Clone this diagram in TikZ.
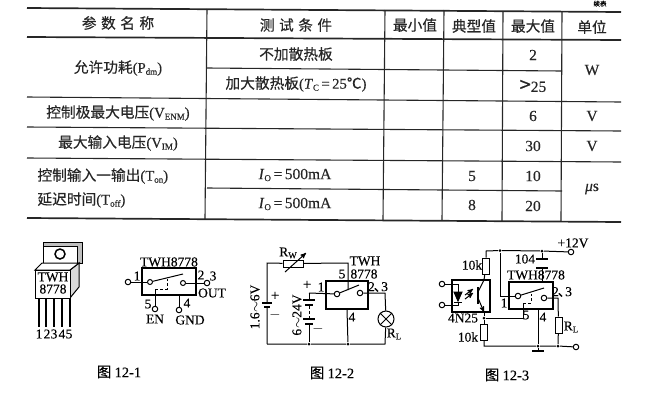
\documentclass[tikz,border=0pt]{standalone}
\usepackage{fontspec}
\setmainfont[FakeBold=0.25]{Liberation Serif}
\newfontfamily\cjk[FakeBold=0.4]{Noto Sans CJK SC}
\usetikzlibrary{arrows}
\newcommand{\lat}[1]{{\rmfamily #1}}
\newcommand{\lsub}[1]{\raisebox{-2pt}{\rmfamily\fontsize{9}{9}\selectfont #1}}

\begin{document}
\begin{tikzpicture}[x=1pt,y=-1pt,thick,line width=1pt,
  rule line/.style={line width=1.1pt,black!85},
  heavy line/.style={line width=1.7pt,black!85},
  cell text/.style={inner sep=0pt,font=\cjk\fontsize{14.7}{15}\selectfont,black!85},
  val text/.style={inner sep=0pt,font=\rmfamily\fontsize{15.5}{15}\selectfont,black!85},
  pin text/.style={inner sep=0pt,font=\rmfamily\fontsize{13.5}{13}\selectfont},
  sign text/.style={inner sep=0pt,font=\rmfamily\fontsize{15}{15}\selectfont},
  fig text/.style={inner sep=0pt,font=\cjk\fontsize{14.5}{15}\selectfont},
  term node/.style={circle,draw,fill=white,inner sep=0pt,minimum size=5.5pt},
  dot node/.style={circle,fill=black,inner sep=0pt,minimum size=3pt},
  res node/.style={rectangle,draw,fill=white,inner sep=0pt,minimum width=7pt,minimum height=16pt},
  ctrl line/.style={densely dashed}]

  \path[use as bounding box,clip] (0,0) rectangle (646,400);

%table rules
  \foreach \xa/\ya/\xb/\yb in {27/8/621/12,27/37/621/40,27/218/621/222}
    \draw[heavy line] (\xa,\ya) -- (\xb,\yb);
  \foreach \xa/\ya/\xb/\yb in {207/68/562/71,27/97/621/102,27/127/621/131,
    27/158/621/162,207/188/562/191}
    \draw[rule line] (\xa,\ya) -- (\xb,\yb);
  \foreach \xa/\ya/\xb/\yb in {207/9/205/219,385/10/383/220,444/10/442/220,
    503/11/502/221,562/11/561/221}
    \draw[rule line] (\xa,\ya) -- (\xb,\yb);

%table text
  \node[cell text] (tA) at (118,23) {参\hspace{4.5pt}数\hspace{4.5pt}名\hspace{4.5pt}称};
  \node[cell text] (tB) at (296,25) {测\hspace{4.5pt}试\hspace{4.5pt}条\hspace{4.5pt}件};
  \node[cell text] (tC) at (415,25) {最小值};
  \node[cell text] (tD) at (474,26) {典型值};
  \node[cell text] (tE) at (533,26) {最大值};
  \node[cell text] (tF) at (592,27) {单位};
  \node[cell text] (tG) at (118,68) {允许功耗\lat{(P\lsub{dm})}};
  \node[cell text] (tH) at (118,113) {控制极最大电压\lat{(V\lsub{ENM})}};
  \node[cell text] (tI) at (118,143) {最大输入电压\lat{(V\lsub{IM})}};
  \node[cell text,anchor=west] (tJ) at (37,176) {控制输入一输出\lat{(T\lsub{on})}};
  \node[cell text,anchor=west] (tK) at (37,200) {延迟时间\lat{(T\lsub{off})}};
  \node[cell text] (tL) at (296,54) {不加散热板};
  \node[cell text] (tM) at (296,84) {加大散热板\lat{(\textit{T}\lsub{C}\,=\,25}℃\lat{)}};
  \node[val text] (tN) at (295,175) {\textit{I}\lsub{O}\,=\,500mA};
  \node[val text] (tO) at (295,204) {\textit{I}\lsub{O}\,=\,500mA};
  \node[val text] (v1) at (533,55) {2};
  \node[val text] (v2) at (533,86) {\cjk\fontsize{20}{20}\selectfont >\rmfamily\fontsize{15.5}{15}\selectfont 25};
  \node[val text] (v3) at (533,116) {6};
  \node[val text] (v4) at (533,146) {30};
  \node[val text] (v5) at (533,176) {10};
  \node[val text] (v6) at (533,206) {20};
  \node[val text] (v7) at (472,176) {5};
  \node[val text] (v8) at (472,205) {8};
  \node[val text] (u1) at (592,70) {W};
  \node[val text] (u2) at (592,116) {V};
  \node[val text] (u3) at (592,146) {V};
  \node[val text] (u4) at (592,189) {\textit{μ}s};
  \node[inner sep=0pt,font=\cjk\fontsize{6.5}{7}\selectfont] (xu) at (600,3.7) {续表};

%figure 12-1 package
  \filldraw[fill=black!25] (43,242) rectangle (82,263);
  \filldraw[fill=white] (43,246) -- (77,246) -- (77,263) -- (43,263) -- cycle;
  \draw[line width=1.5pt] (60,254) circle (5);
  \filldraw[fill=black!15] (70,270) -- (79,263) -- (79,287) -- (70,298) -- cycle;
  \draw[fill=white] (35,270) -- (42,263) -- (79,263) -- (70,270) -- cycle;
  \node[draw,fill=white,minimum width=35pt,minimum height=28pt,inner sep=0pt] (pk) at (52.5,284) {};
  \node[pin text] (pkA) at (53,277) {TWH};
  \node[pin text] (pkB) at (53,289) {8778};
  \foreach \i/\x/\xt in {1/39/39,2/46/47,3/54/54,4/62/62,5/70/69}{
    \coordinate (lead\i) at (\x,327);
    \draw[line width=1.3pt] (\x,298) -- (lead\i);
    \node[pin text] (leadt\i) at (\xt,334) {\i};
  }
  \node[fig text] (figA) at (119,372) {图 \lat{12-1}};

%figure 12-1 symbol
  \node[draw,line width=1.2pt,minimum width=54pt,minimum height=27pt,inner sep=0pt] (swA) at (169,281.5) {};
  \node[pin text] (swAt) at (169,262) {TWH8778};
  \node[term node] (aIn) at (128,282) {};
  \node[term node] (aOut) at (207,283) {};
  \node[term node] (aEn) at (155,309) {};
  \node[term node] (aGnd) at (179,310) {};
  \node[term node,minimum size=5pt] (aS) at (150,282) {};
  \node[term node,minimum size=5pt] (aC) at (183,283) {};
  \coordinate (aArm) at (183,274);
  \coordinate (aD1) at (155,289);
  \coordinate (aD2) at (167,289);
  \coordinate (aD3) at (167,279);
  \draw (aIn) -- (aS);
  \draw (aC) -- (aOut);
  \draw (aS) -- (aArm);
  \draw (aEn) -- (aD1);
  \draw[ctrl line] (aD1) -- (aD2) -- (aD3);
  \draw (aGnd) -- (179,295);
  \node[pin text] (a1) at (137,276) {1};
  \node[pin text] (a2) at (201,275) {2};
  \node[pin text] (a3) at (213,276) {3};
  \node[pin text] (a4) at (187,303) {4};
  \node[pin text] (a5) at (148,304) {5};
  \node[pin text] (aOt) at (212,293) {OUT};
  \node[pin text] (aEt) at (155,319) {EN};
  \node[pin text] (aGt) at (190,320) {GND};

%figure 12-2
  \node[draw,line width=1.2pt,minimum width=42pt,minimum height=28pt,inner sep=0pt] (swB) at (347,295) {};
  \node[term node] (bS) at (337,294) {};
  \node[term node] (bC) at (360,293) {};
  \coordinate (bArm) at (359,285);
  \coordinate (bTL) at (267,263);
  \coordinate (bBL) at (267,344);
  \coordinate (bT5) at (348,263);
  \coordinate (bBR) at (385,344);
  \coordinate (bTR) at (385,293);
  \coordinate (bB1) at (309,293);
  \coordinate (bP5) at (348,290);
  \node[dot node] (bD1) at (309,344) {};
  \node[dot node] (bD2) at (348,344) {};
  \node[res node,minimum width=20pt,minimum height=7pt] (bRw) at (293,263.5) {};
  \node[circle,draw,fill=white,inner sep=0pt,minimum size=16pt] (bLamp) at (386,319) {};
  \draw (bLamp.north west) -- (bLamp.south east);
  \draw (bLamp.north east) -- (bLamp.south west);
  \draw (bBL) -- (bTL) -- (bRw);
  \draw (bRw) -- (bT5) -- (bP5);
  \draw (swB.south) -- (bD2);
  \draw (bBL) -- (bD1) -- (bD2) -- (bBR) -- (bLamp);
  \draw (bLamp) -- (bTR) -- (bC);
  \draw (bB1) -- (bS);
  \draw (bS) -- (bArm);
  \draw[-stealth'] (285,272) -- (306,253);
%batteries
  \draw[draw=white,line width=4pt] (267,302) -- (267,308);
  \draw[line width=1.1pt] (262,303) -- (272,303);
  \draw[line width=1.8pt] (264,307) -- (270,307);
  \draw (bB1) -- (309,300);
  \draw[line width=1.1pt] (303,300) -- (315,300);
  \draw[line width=1.8pt] (305,305) -- (313,305);
  \draw[densely dashed] (309,306) -- (309,318);
  \draw[line width=1.1pt] (303,319) -- (315,319);
  \draw[line width=1.8pt] (305,324) -- (313,324);
  \draw (309,324) -- (bD1);
  \node[pin text] (bTw) at (365,261) {TWH};
  \node[pin text] (bEi) at (364,274) {8778};
  \node[pin text] (b5) at (342,274) {5};
  \node[pin text] (b1) at (321,287) {1};
  \node[pin text] (b23) at (378,287) {2\cjk\kern-1pt 、\kern-6pt\rmfamily 3};
  \node[pin text] (b4) at (352,317) {4};
  \node[pin text] (bRwt) at (288,253) {R\lsub{W}};
  \node[pin text] (bRl) at (394,334) {R\lsub{L}};
  \node[pin text,rotate=90] (bV1) at (255,307) {1.6$\sim$6V};
  \node[pin text,rotate=90] (bV2) at (297,315) {6$\sim$24V};
  \node[sign text] (bP1) at (275,296) {+};
  \node[sign text] (bM1) at (275,315) {$-$};
  \node[sign text] (bP2) at (307,285) {+};
  \node[sign text] (bM2) at (318,329) {$-$};
  \node[fig text] (figB) at (332,373) {图 \lat{12-2}};

%figure 12-3
  \node[draw,line width=1.2pt,minimum width=44pt,minimum height=27pt,inner sep=0pt] (swC) at (531,295.5) {};
  \node[draw,line width=1.2pt,minimum width=38pt,minimum height=32pt,inner sep=0pt] (opto) at (471,296) {};
  \node[term node] (cV) at (571,252) {};
  \node[term node] (cA) at (442,284) {};
  \node[term node] (cK) at (442,305) {};
  \node[term node] (cG) at (576,347) {};
  \node[term node] (cS) at (518,296) {};
  \node[term node] (cC) at (544,298) {};
  \node[dot node] (cD1) at (500,250.5) {};
  \node[dot node] (cD2) at (542,251) {};
  \node[dot node] (cD3) at (484,318) {};
  \node[dot node] (cD4) at (538,346) {};
  \node[dot node] (cD5) at (558,346) {};
  \node[res node] (cR1) at (486,266) {};
  \node[res node] (cR2) at (484,332.5) {};
  \node[res node] (cRl) at (558.5,325) {};
  \coordinate (cTop) at (486,251);
  \coordinate (cLow) at (484,346);
  \coordinate (cIn) at (500,296);
  \coordinate (cRt) at (558,298);
  \coordinate (cCp1) at (542,259);
  \coordinate (cCp2) at (542,268);
  \coordinate (cE5) at (523,318);
  \coordinate (cE6) at (523,303);
  \coordinate (cE7) at (531,303);
  \coordinate (cE8) at (531,294);
  \coordinate (cArm) at (544,288);
  \coordinate (cGnd) at (538,351);
  \coordinate (cP4) at (538,309);
  \draw (cV) -- (cD2) -- (cD1) -- (cTop) -- (cR1);
  \draw (cD2) -- (cCp1);
  \draw[line width=1.1pt] (536,259) -- (548,259);
  \draw[line width=1.8pt] (536,268) -- (548,268);
  \draw (cCp2) -- (542,282);
  \draw (cD1) -- (cIn) -- (cS);
  \draw (cS) -- (cArm);
  \draw (cC) -- (cRt) -- (cRl);
  \draw (cRl) -- (cD5);
  \draw (cD3) -- (cE5) -- (cE6);
  \draw[ctrl line] (cE6) -- (cE7) -- (cE8);
  \draw (cD3) -- (cR2);
  \draw (cR2) -- (cLow) -- (cD4) -- (cD5) -- (cG);
  \draw (cP4) -- (cD4) -- (cGnd);
  \draw[line width=1.3pt] (532,351) -- (544,351);
%optocoupler
  \coordinate (cCol) at (484,280);
  \coordinate (cEmi) at (484,312);
  \draw (cA) -- (458,284) -- (458,292);
  \draw (cK) -- (458,305) -- (458,302);
  \draw[fill=black] (454,292) -- (462,292) -- (458,301) -- cycle;
  \draw (454,302) -- (462,302);
  \draw[-stealth'] (465,299) -- (473,293);
  \draw[-stealth'] (465,295) -- (473,289);
  \draw[line width=1.6pt] (478,287) -- (478,304);
  \draw (cR1) -- (cCol) -- (478,292);
  \draw[-stealth'] (478,298) -- (cEmi);
  \draw (cEmi) -- (cD3);
  \node[pin text] (cV12) at (573,243) {+12V};
  \node[pin text] (c104) at (525,259) {104};
  \node[pin text] (cRt1) at (472,265) {10k};
  \node[pin text] (cRt2) at (468,337) {10k};
  \node[pin text] (cTw) at (536,275) {TWH8778};
  \node[pin text] (cN25) at (463,318) {4N25};
  \node[pin text] (c1) at (504,303) {1};
  \node[pin text] (c23) at (562,292) {2\cjk\kern-1pt 、\kern-6pt\rmfamily 3};
  \node[pin text] (c4) at (543,317) {4};
  \node[pin text] (c5) at (526,315) {5};
  \node[pin text] (cRlt) at (571,327) {R\lsub{L}};
  \node[fig text] (figC) at (507,375) {图 \lat{12-3}};
\end{tikzpicture}
\end{document}
